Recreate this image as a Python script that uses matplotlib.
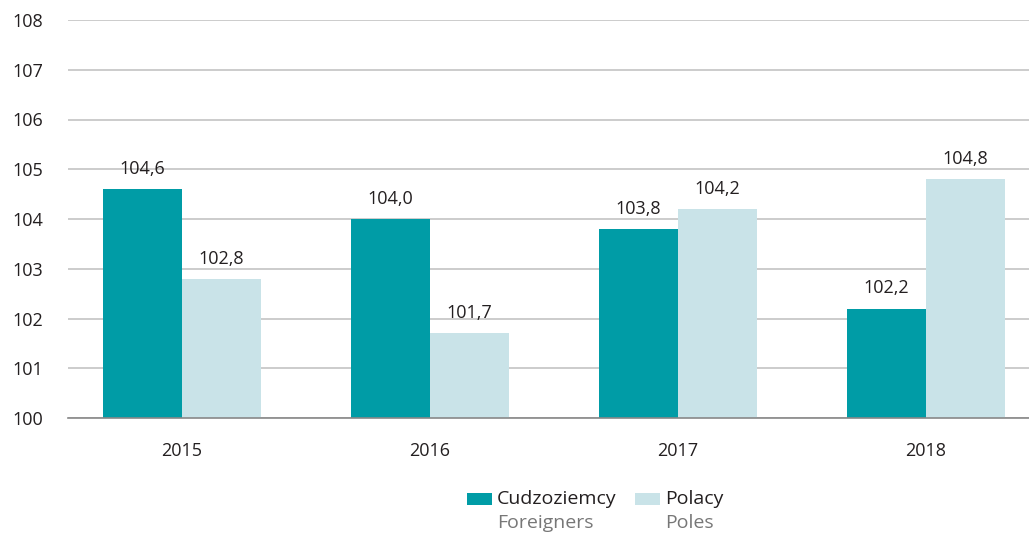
import matplotlib
matplotlib.use("Agg")
import matplotlib.pyplot as plt
from matplotlib.patches import Rectangle
import numpy as np

years = ["2015", "2016", "2017", "2018"]
foreigners = [104.6, 104.0, 103.8, 102.2]
poles = [102.8, 101.7, 104.2, 104.8]
series_pl = ["Cudzoziemcy", "Polacy"]
series_en = ["Foreigners", "Poles"]
yticks = [100, 101, 102, 103, 104, 105, 106, 107, 108]

c_for = "#009ca6"
c_pol = "#c9e3e8"

plt.rcParams['font.family'] = ['Open Sans', 'DejaVu Sans']

fig = plt.figure(figsize=(10.29, 5.33), dpi=100)
ax = fig.add_axes([68/1029, 1 - 418/533, 1 - 68/1029, (418-20)/533])

x = np.arange(len(years))
w = 79/248
ax.bar(x - w/2, [v - 100 for v in foreigners], w, bottom=100, color=c_for, zorder=3)
ax.bar(x + w/2, [v - 100 for v in poles], w, bottom=100, color=c_pol, zorder=3)

for xs, vals in ((x - w/2, foreigners), (x + w/2, poles)):
    for xi, v in zip(xs, vals):
        ax.annotate(f"{v:.1f}".replace(".", ","), (xi, v), xytext=(0, 8), textcoords="offset points",
                    ha="center", va="bottom", fontsize=13, color="#231f20")

ax.set_ylim(100, 108)
ax.set_xlim(-114/248, (1029-182)/248)
ax.set_yticks(yticks)
ax.set_yticklabels([str(t) for t in yticks], fontsize=13, color="#231f20")
ax.set_xticks(x)
ax.set_xticklabels(years, fontsize=13, color="#231f20")
ax.tick_params(axis="both", length=0)
ax.tick_params(axis="y", pad=18)
ax.tick_params(axis="x", pad=17)
ax.yaxis.grid(True, color="#c4c4c4", linewidth=1.2, zorder=0)
for s in ["top", "right", "left"]:
    ax.spines[s].set_visible(False)
ax.spines["bottom"].set_color("#888888")
ax.spines["bottom"].set_linewidth(1.2)
ax.spines["bottom"].set_zorder(4)

# legend (manual, two-line labels)
def px(xp, yp):
    return xp/1029, 1 - yp/533

for (sx, tx), col, lp, le in zip([(467, 497), (635, 665)], [c_for, c_pol], series_pl, series_en):
    x0, y0 = px(sx, 505)
    fig.patches.append(Rectangle((x0, y0), 25/1029, 12/533, transform=fig.transFigure,
                                 facecolor=col, edgecolor="none"))
    fx, fy = px(tx, 499)
    fig.text(fx, fy, lp, fontsize=14, color="#231f20", ha="left", va="center")
    fx, fy = px(tx, 523)
    fig.text(fx, fy, le, fontsize=14, color="#777777", ha="left", va="center")

fig.savefig("out.png", dpi=100)
